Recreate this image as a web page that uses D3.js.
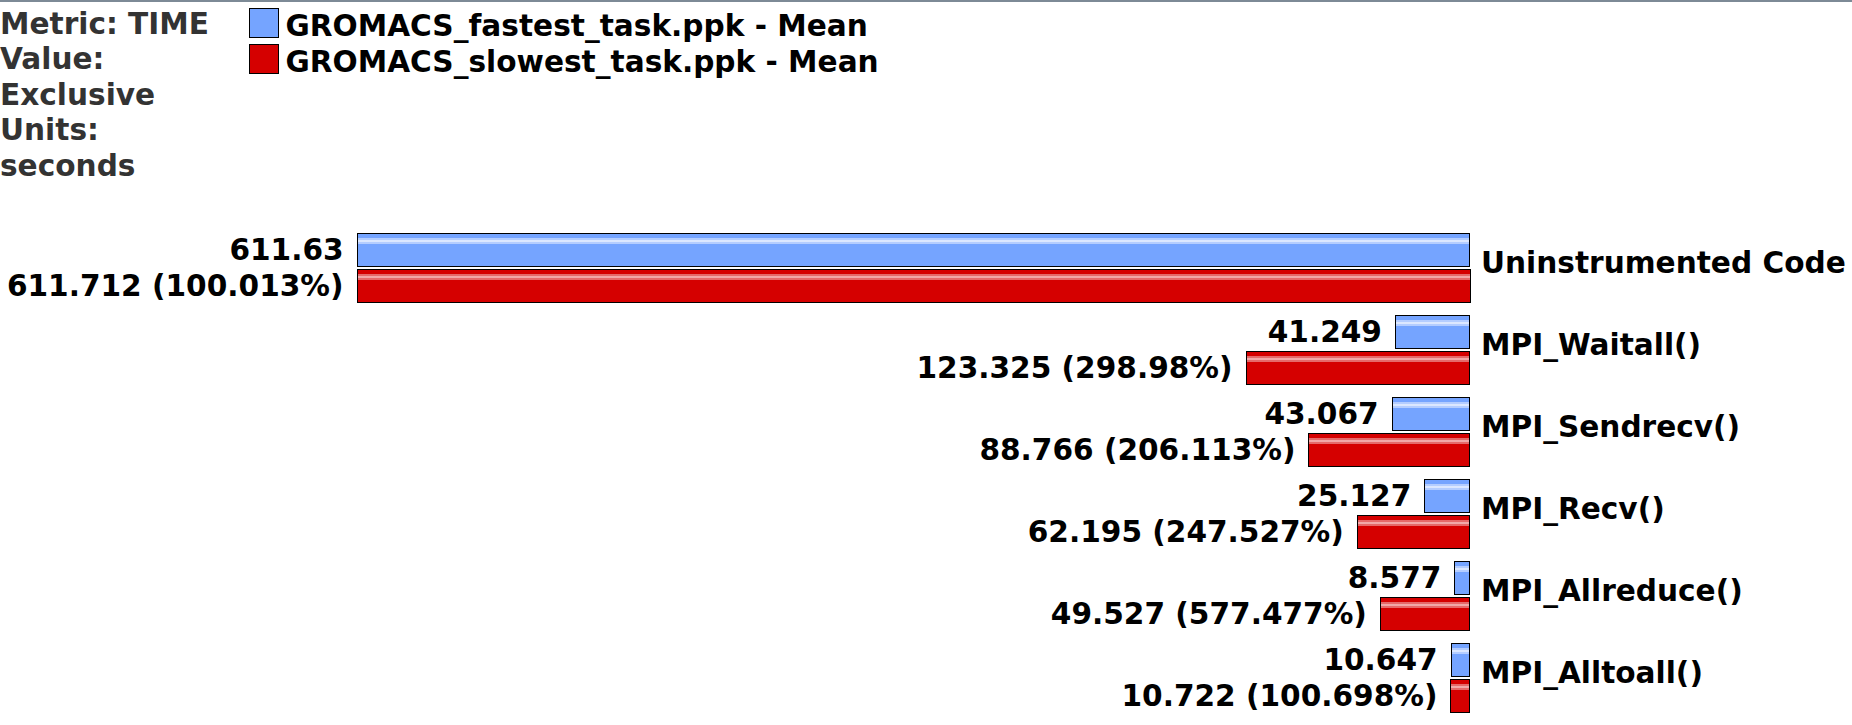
<!DOCTYPE html>
<html>
<head>
<meta charset="utf-8">
<script src="https://cdn.jsdelivr.net/npm/d3@7"></script>
<style>
  html, body { margin: 0; padding: 0; background: #fff; }
  svg { display: block; }
  text { font-family: "DejaVu Sans", sans-serif; font-weight: bold; font-size: 29.6px; }
</style>
</head>
<body>
<svg id="chart" width="1852" height="725"></svg>
<script>
// ---- data ----
const categories = ["Uninstrumented Code", "MPI_Waitall()", "MPI_Sendrecv()", "MPI_Recv()", "MPI_Allreduce()", "MPI_Alltoall()"];
const fastest = [611.63, 41.249, 43.067, 25.127, 8.577, 10.647];
const slowest = [611.712, 123.325, 88.766, 62.195, 49.527, 10.722];
const slowestPct = ["100.013", "298.98", "206.113", "247.527", "577.477", "100.698"];
const seriesNames = ["GROMACS_fastest_task.ppk - Mean", "GROMACS_slowest_task.ppk - Mean"];
const infoLines = ["Metric: TIME", "Value:", "Exclusive", "Units:", "seconds"];

const colors = { fast: "#75a4ff", slow: "#d50000" };

const svg = d3.select("#chart");
const W = 1852;

/* --- gradients for the shiny bars --- */
const defs = svg.append("defs");
function shine(id, base, pale, light) {
  const g = defs.append("linearGradient").attr("id", id)
    .attr("x1", 0).attr("y1", 0).attr("x2", 0).attr("y2", 1);
  [[0, base], [0.13, base], [0.13, pale], [0.19, pale], [0.19, light],
   [0.25, light], [0.25, pale], [0.33, pale], [0.33, base], [1, base]]
    .forEach(([o, c]) => g.append("stop").attr("offset", o).attr("stop-color", c));
}
shine("gFast", colors.fast, "#b4cdff", "#dbe7ff");
shine("gSlow", colors.slow, "#e56a6a", "#f2a8a8");

/* --- top rule --- */
svg.append("line").attr("x1", 0).attr("x2", W).attr("y1", 1).attr("y2", 1)
  .attr("stroke", "#7d8a96").attr("stroke-width", 2);

/* --- info text --- */
svg.append("g").selectAll("text").data(infoLines).join("text")
  .attr("x", 0).attr("y", (d, i) => 33.5 + i * 35.5)
  .attr("fill", "#333").text((d) => d);

/* --- legend --- */
const legend = svg.append("g").selectAll("g").data(seriesNames).join("g")
  .attr("transform", (d, i) => `translate(249.5,${8.5 + i * 36})`);
legend.append("rect").attr("width", 29).attr("height", 29)
  .attr("fill", (d, i) => (i === 0 ? colors.fast : colors.slow))
  .attr("stroke", "#000");
legend.append("text").attr("x", 36).attr("y", 27).attr("fill", "#000").text((d) => d);

/* --- bars --- */
const right = 1470;
const x = d3.scaleLinear().domain([0, d3.max(slowest)]).range([0, 1113.5]);
const y0 = d3.scaleBand().domain(categories).range([233, 233 + 82 * categories.length]);
const y1 = d3.scaleBand().domain(["fast", "slow"]).range([0, 70]).paddingInner(2 / 36);

const rows = categories.map((c, i) => ({ cat: c, fast: fastest[i], slow: slowest[i], pct: slowestPct[i] }));

const group = svg.append("g").selectAll("g").data(rows).join("g")
  .attr("transform", (d) => `translate(0,${y0(d.cat)})`);

["fast", "slow"].forEach((k) => {
  group.append("rect")
    .attr("x", (d) => Math.round(right - x(d[k])) + 0.5)
    .attr("y", y1(k) + 0.5)
    .attr("width", (d) => Math.round(x(d[k])) - 1)
    .attr("height", y1.bandwidth() - 1)
    .attr("fill", k === "fast" ? "url(#gFast)" : "url(#gSlow)")
    .attr("stroke", "#000");

  group.append("text")
    .attr("x", (d) => right - x(d[k]) - 13)
    .attr("y", y1(k) + 26.5)
    .attr("text-anchor", "end")
    .attr("fill", "#000")
    .text((d) => (k === "fast" ? `${d.fast}` : `${d.slow} (${d.pct}%)`));
});

group.append("text")
  .attr("x", right + 11)
  .attr("y", 40)
  .attr("fill", "#000")
  .text((d) => d.cat);
</script>
</body>
</html>
